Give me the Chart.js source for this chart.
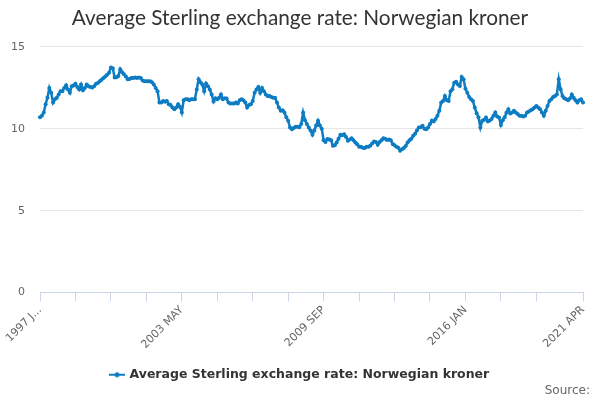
<!DOCTYPE html>
<html>
<head>
<meta charset="utf-8">
<script src="https://cdn.jsdelivr.net/npm/chart.js@4/dist/chart.umd.min.js"></script>
<style>
  html, body { margin: 0; padding: 0; background: #fff; }
  #wrap { position: relative; width: 600px; height: 400px; }
  #source { position: absolute; right: 10px; top: 383px; font: 12px "DejaVu Sans", sans-serif; color: #666; }
</style>
</head>
<body>
<div id="wrap">
  <canvas id="c" width="600" height="400"></canvas>
  <div id="source">Source:</div>
</div>
<script>
const chartTitle = "Average Sterling exchange rate: Norwegian kroner";
const seriesName = "Average Sterling exchange rate: Norwegian kroner";
const years = [1997,1998,1999,2000,2001,2002,2003,2004,2005,2006,2007,2008,2009,2010,2011,2012,2013,2014,2015,2016,2017,2018,2019,2020,2021];
const monthNames = ["JAN","FEB","MAR","APR","MAY","JUN","JUL","AUG","SEP","OCT","NOV","DEC"];
const lastMonths = 4; // data ends 2021 APR
const yTicks = [0, 5, 10, 15];

const values = [
  // 1997
  10.7, 10.8, 11.0, 11.5, 11.9, 12.5, 12.2, 11.6, 11.8, 11.9, 12.1, 12.3,
  // 1998
  12.3, 12.5, 12.66, 12.4, 12.2, 12.6, 12.65, 12.76, 12.55, 12.4, 12.7, 12.36,
  // 1999
  12.5, 12.7, 12.6, 12.55, 12.52, 12.6, 12.75, 12.8, 12.9, 13.0, 13.1, 13.2,
  // 2000
  13.3, 13.43, 13.74, 13.7, 13.13, 13.15, 13.23, 13.64, 13.45, 13.33, 13.2, 13.03,
  // 2001
  13.05, 13.1, 13.1, 13.13, 13.1, 13.13, 13.1, 12.95, 12.9, 12.9, 12.9, 12.9,
  // 2002
  12.85, 12.7, 12.5, 12.3, 11.6, 11.6, 11.7, 11.65, 11.7, 11.5, 11.45, 11.3,
  // 2003
  11.2, 11.3, 11.5, 11.35, 11.0, 11.75, 11.8, 11.8, 11.75, 11.8, 11.8, 11.8,
  // 2004
  12.4, 13.03, 12.85, 12.7, 12.3, 12.77, 12.6, 12.4, 12.1, 11.67, 11.87, 11.8,
  // 2005
  11.9, 12.1, 11.8, 11.87, 11.85, 11.6, 11.54, 11.55, 11.54, 11.6, 11.54, 11.75,
  // 2006
  11.8, 11.75, 11.6, 11.3, 11.45, 11.5, 11.7, 12.2, 12.4, 12.56, 12.2, 12.5,
  // 2007
  12.3, 12.1, 12.0, 12.0, 11.95, 11.9, 11.9, 11.6, 11.3, 11.1, 11.14, 11.0,
  // 2008
  10.7, 10.49, 10.08, 9.98, 10.05, 10.12, 10.12, 10.1, 10.3, 11.0, 10.53, 10.3,
  // 2009
  10.08, 9.9, 9.63, 9.9, 10.2, 10.49, 10.2, 10.0, 9.3, 9.2, 9.37, 9.35,
  // 2010
  9.3, 8.96, 9.0, 9.17, 9.4, 9.63, 9.6, 9.67, 9.5, 9.27, 9.35, 9.43,
  // 2011
  9.3, 9.17, 9.05, 8.9, 8.9, 8.85, 8.82, 8.9, 8.9, 8.96, 9.1, 9.23,
  // 2012
  9.2, 9.02, 9.2, 9.3, 9.43, 9.4, 9.31, 9.35, 9.3, 9.07, 9.0, 8.9,
  // 2013
  8.85, 8.66, 8.75, 8.82, 8.95, 9.17, 9.3, 9.4, 9.57, 9.7, 9.9, 10.08,
  // 2014
  10.1, 10.18, 10.0, 9.98, 10.08, 10.3, 10.5, 10.45, 10.6, 10.8, 11.1, 11.6,
  // 2015
  11.7, 12.0, 11.75, 11.7, 12.3, 12.42, 12.82, 12.88, 12.7, 12.62, 13.17, 13.03,
  // 2016
  12.45, 12.2, 11.95, 11.8, 11.7, 11.3, 10.95, 10.7, 10.08, 10.49, 10.55, 10.69,
  // 2017
  10.45, 10.5, 10.6, 10.8, 11.0, 10.75, 10.69, 10.24, 10.53, 10.7, 11.0, 11.2,
  // 2018
  10.94, 11.0, 11.1, 11.0, 10.9, 10.8, 10.8, 10.75, 10.8, 11.0, 11.05, 11.14,
  // 2019
  11.2, 11.3, 11.4, 11.3, 11.2, 11.0, 10.8, 11.1, 11.4, 11.7, 11.8, 11.95,
  // 2020
  12.0, 12.1, 13.03, 12.42, 12.0, 11.87, 11.8, 11.75, 11.85, 12.1, 11.9, 11.75,
  // 2021
  11.6, 11.75, 11.8, 11.6
];

const labels = [];
years.forEach((y, yi) => {
  const n = (yi === years.length - 1) ? lastMonths : 12;
  for (let m = 0; m < n; m++) labels.push(y + " " + monthNames[m]);
});

const lineColor = "#0d7cc2";
const lastIdx = labels.length - 1;
const tickStep = 19;
const labelStep = 76;

function legendIcon() {
  const cv = document.createElement("canvas");
  cv.width = 16; cv.height = 8;
  const g = cv.getContext("2d");
  g.strokeStyle = lineColor; g.lineWidth = 2;
  g.beginPath(); g.moveTo(0, 4); g.lineTo(16, 4); g.stroke();
  g.fillStyle = lineColor;
  g.beginPath(); g.arc(8, 4, 2.5, 0, Math.PI * 2); g.fill();
  return cv;
}
const icon = legendIcon();

const centerBlocks = {
  id: "centerBlocks",
  afterLayout(chart) {
    [chart.legend, chart.titleBlock].forEach(b => {
      if (b) { b.left = 0; b.right = chart.width; b.width = chart.width; }
    });
  }
};

new Chart(document.getElementById("c"), {
  type: "line",
  data: {
    labels: labels,
    datasets: [{
      label: seriesName,
      data: values,
      borderColor: lineColor,
      backgroundColor: lineColor,
      borderWidth: 2.5,
      pointRadius: 2,
      pointBorderWidth: 0,
      pointBackgroundColor: lineColor,
      tension: 0
    }]
  },
  plugins: [centerBlocks],
  options: {
    responsive: false,
    animation: false,
    devicePixelRatio: 1,
    layout: { padding: { left: 0, right: 17, top: 0, bottom: 9 } },
    plugins: {
      title: {
        display: true,
        text: chartTitle,
        color: "#333",
        font: { family: "Lato", size: 20.8, weight: "normal" },
        padding: { top: 6, bottom: 16 }
      },
      legend: {
        position: "bottom",
        labels: {
          color: "#333",
          font: { family: "DejaVu Sans", size: 12.5, weight: "bold" },
          usePointStyle: true,
          boxWidth: 16,
          generateLabels: (chart) => {
            const items = Chart.defaults.plugins.legend.labels.generateLabels(chart);
            items.forEach(it => { it.pointStyle = icon; });
            return items;
          }
        }
      },
      tooltip: { enabled: false }
    },
    scales: {
      x: {
        type: "category",
        afterBuildTicks: (s) => {
          s.ticks = s.ticks.filter(t => (t.value % tickStep === 0 && t.value <= lastIdx - 10) || t.value === lastIdx);
        },
        afterFit: (s) => { s.height = 66; s.paddingLeft = 0; s.paddingRight = 0; },
        ticks: {
          autoSkip: false,
          maxRotation: 45,
          minRotation: 45,
          color: "#666",
          font: { family: "DejaVu Sans", size: 11 },
          padding: 2,
          callback: function (value, index, ticks) {
            const v = ticks[index].value;
            if (v === 0) return "1997 J...";
            if (v % labelStep === 0 || v === lastIdx) return this.getLabelForValue(v);
            return "";
          }
        },
        grid: {
          drawOnChartArea: false,
          drawTicks: true,
          tickLength: 9,
          color: "#ccd6eb"
        },
        border: { display: true, color: "#ccd6eb" }
      },
      y: {
        min: 0,
        max: 15,
        afterBuildTicks: (s) => { s.ticks = yTicks.map(v => ({ value: v })); },
        afterFit: (s) => { s.width = 40; },
        ticks: {
          color: "#666",
          font: { family: "DejaVu Sans", size: 11 },
          padding: 15
        },
        grid: { color: "#e6e6e6", drawTicks: false },
        border: { display: false }
      }
    }
  }
});
</script>
</body>
</html>
